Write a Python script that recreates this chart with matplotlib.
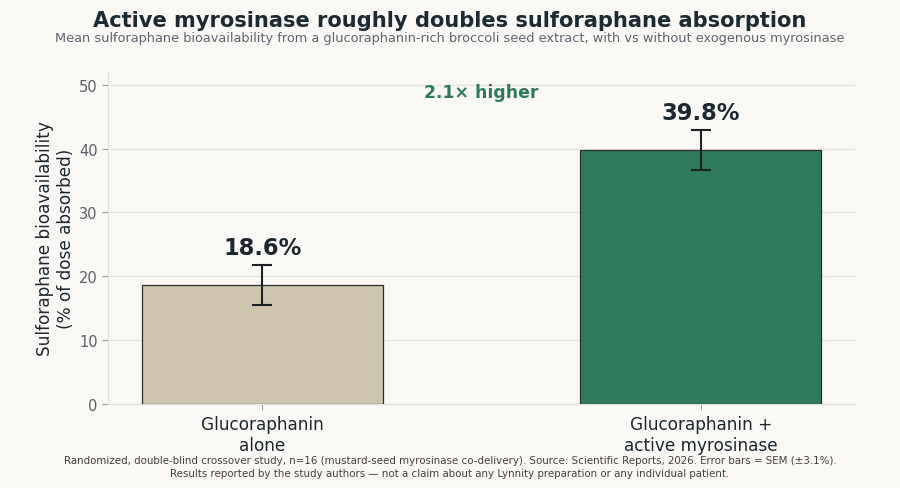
import matplotlib
matplotlib.use("Agg")
import matplotlib.pyplot as plt

plt.rcParams["font.family"] = ["DejaVu Sans"]

categories = ["Glucoraphanin\nalone", "Glucoraphanin +\nactive myrosinase"]
values = [18.6, 39.8]
sem = [3.1, 3.1]
value_labels = ["18.6%", "39.8%"]
bar_colors = ["#cec5ae", "#2f7a5b"]
yticks = [0, 10, 20, 30, 40, 50]
ratio_label = "2.1× higher"

bg = "#faf9f6"
fig = plt.figure(figsize=(9, 4.89), dpi=100, facecolor=bg)
ax = fig.add_axes([0.12, 0.1718, 0.83, 0.679])
ax.set_facecolor(bg)

x = list(range(len(categories)))
ax.bar(x, values, width=0.55, color=bar_colors, edgecolor="#2b2f30", linewidth=0.9, zorder=3)
ax.errorbar(x, values, yerr=sem, fmt="none", ecolor="#1c2226", elinewidth=1.5,
            capsize=7.5, capthick=1.5, zorder=4)
for xi, v, s, lab in zip(x, values, sem, value_labels):
    ax.text(xi, v + s + 1.0, lab, ha="center", va="bottom", fontsize=16.3,
            fontweight="bold", color="#1c2730", zorder=5)

ax.text(0.5, 48.8, ratio_label, ha="center", va="center", fontsize=12.4,
        fontweight="bold", color="#2f7a5b")

ax.set_xlim(-0.352, 1.352)
ax.set_ylim(0, 52)
ax.set_yticks(yticks)
ax.set_xticks(x)
ax.set_xticklabels(categories, fontsize=12.2, color="#1c2730")
ax.tick_params(axis="y", labelsize=10.5, colors="#5a6268", length=4, color="#999999")
ax.tick_params(axis="x", length=4, color="#999999", pad=4)
for lab in ax.get_yticklabels():
    lab.set_color("#5a6268")
ax.set_ylabel("Sulforaphane bioavailability\n(% of dose absorbed)", fontsize=12.2,
              color="#1c2730", labelpad=3)
ax.grid(axis="y", color="#e6e4df", linewidth=1.0, zorder=0)
ax.set_axisbelow(True)
for s in ["top", "right"]:
    ax.spines[s].set_visible(False)
for s in ["left", "bottom"]:
    ax.spines[s].set_color("#e3e1dc")
    ax.spines[s].set_linewidth(1.0)

fig.text(0.5, 0.958, "Active myrosinase roughly doubles sulforaphane absorption",
         ha="center", va="center", fontsize=15.1, fontweight="bold", color="#1c2a33")
fig.text(0.5, 0.922, "Mean sulforaphane bioavailability from a glucoraphanin-rich broccoli seed extract, with vs without exogenous myrosinase",
         ha="center", va="center", fontsize=9.3, color="#5b6670")
fig.text(0.5, 0.044,
         "Randomized, double-blind crossover study, n=16 (mustard-seed myrosinase co-delivery). Source: Scientific Reports, 2026. Error bars = SEM (±3.1%).\nResults reported by the study authors — not a claim about any Lynnity preparation or any individual patient.",
         ha="center", va="center", fontsize=7.4, color="#4a3f36", linespacing=1.3)

fig.savefig("out.png", dpi=100, facecolor=bg)
